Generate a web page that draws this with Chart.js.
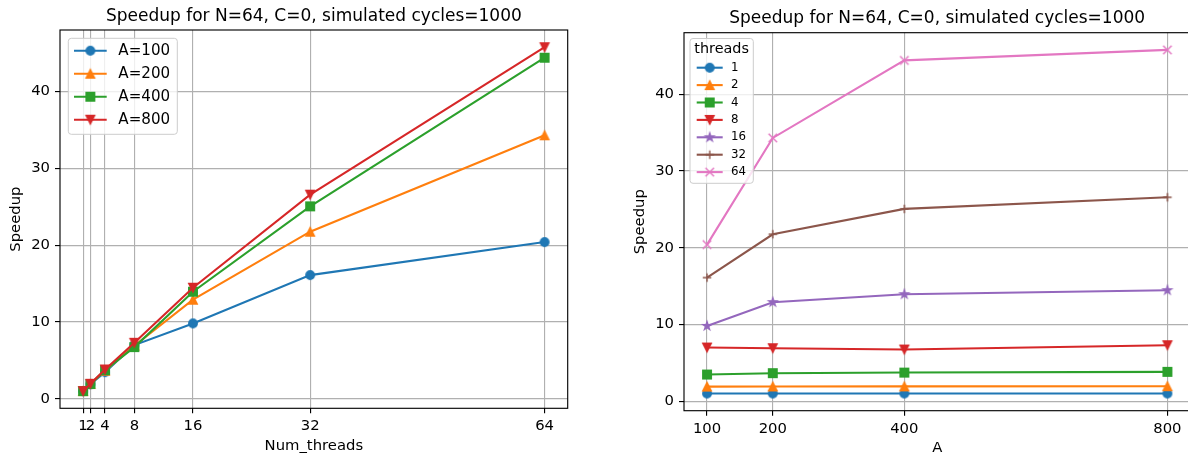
<!DOCTYPE html>
<html>
<head>
<meta charset="utf-8">
<script src="https://cdn.jsdelivr.net/npm/chart.js@4.4.1/dist/chart.umd.min.js"></script>
<style>
  html, body { margin: 0; padding: 0; background: #fff; overflow: hidden; }
  #wrap { position: relative; width: 1188px; height: 457px; overflow: hidden; }
  .panel { position: absolute; top: 0; height: 457px; }
  #left { left: 0; width: 594px; }
  /* right axes runs past the window edge, like the reference */
  #right { left: 594px; width: 603px; }
</style>
</head>
<body>
<div id="wrap">
  <div class="panel" id="left"><canvas id="threads-chart" width="594" height="457"></canvas></div>
  <div class="panel" id="right"><canvas id="a-chart" width="603" height="457"></canvas></div>
</div>
<script>
// ---- data ----
const threadCounts = [1, 2, 4, 8, 16, 32, 64];
const aValues = [100, 200, 400, 800];
const speedupA100 = [1.0, 1.90, 3.47, 6.99, 9.81, 16.10, 20.40];
const speedupA200 = [1.0, 1.92, 3.65, 6.90, 12.90, 21.75, 34.30];
const speedupA400 = [1.0, 1.93, 3.73, 6.73, 13.94, 25.05, 44.40];
const speedupA800 = [1.0, 1.95, 3.82, 7.29, 14.46, 26.57, 45.77];
const yTicks = [0, 10, 20, 30, 40];
const chartTitle = 'Speedup for N=64, C=0, simulated cycles=1000';

// matplotlib tab10
const palette = ['#1f77b4', '#ff7f0e', '#2ca02c', '#d62728', '#9467bd', '#8c564b', '#e377c2'];
const markerKinds = ['o', '^', 's', 'v', '*', '+', 'x'];

Chart.defaults.font.family = "'DejaVu Sans', sans-serif";
Chart.defaults.color = '#000';

const FONT = 14.8;
const LINE_W = 2.1;
const EDGE_W = 1.42;
const GRID_W = 1.13;

// Small canvases used as point styles (matplotlib-like markers)
function makeMarker(kind, color) {
  const size = 16, h = 4.25;
  const c = document.createElement('canvas');
  c.width = size; c.height = size;
  const ctx = c.getContext('2d');
  ctx.translate(size / 2, size / 2);
  ctx.fillStyle = color;
  ctx.strokeStyle = color;
  ctx.lineWidth = EDGE_W;
  ctx.beginPath();
  if (kind === 'o') {
    ctx.arc(0, 0, h, 0, Math.PI * 2);
  } else if (kind === '^') {
    ctx.moveTo(0, -h); ctx.lineTo(-h, h); ctx.lineTo(h, h); ctx.closePath();
  } else if (kind === 'v') {
    ctx.moveTo(0, h); ctx.lineTo(-h, -h); ctx.lineTo(h, -h); ctx.closePath();
  } else if (kind === 's') {
    ctx.rect(-h, -h, 2 * h, 2 * h);
  } else if (kind === '*') {
    for (let i = 0; i < 10; i++) {
      const r = i % 2 === 0 ? h : h * 0.381966;
      const ang = -Math.PI / 2 + i * Math.PI / 5;
      const px = r * Math.cos(ang), py = r * Math.sin(ang);
      if (i === 0) ctx.moveTo(px, py); else ctx.lineTo(px, py);
    }
    ctx.closePath();
  } else if (kind === '+') {
    ctx.moveTo(-h, 0); ctx.lineTo(h, 0); ctx.moveTo(0, -h); ctx.lineTo(0, h);
    ctx.stroke();
    return c;
  } else if (kind === 'x') {
    ctx.moveTo(-h, -h); ctx.lineTo(h, h); ctx.moveTo(-h, h); ctx.lineTo(h, -h);
    ctx.stroke();
    return c;
  }
  ctx.fill();
  ctx.stroke();
  return c;
}

// axis limits with matplotlib's 5% margins
function padded(values) {
  const lo = Math.min(...values), hi = Math.max(...values);
  const pad = (hi - lo) * 0.05;
  return { min: lo - pad, max: hi + pad };
}

const allSpeedups = [].concat(speedupA100, speedupA200, speedupA400, speedupA800);
const yLim = padded(allSpeedups);

// full box around the plot area
const framePlugin = {
  id: 'frame',
  afterDatasetsDraw(chart) {
    const { ctx, chartArea: a } = chart;
    ctx.save();
    ctx.strokeStyle = '#000';
    ctx.lineWidth = GRID_W;
    ctx.strokeRect(a.left, a.top, a.right - a.left, a.bottom - a.top);
    ctx.restore();
  }
};

// matplotlib style legend: line + marker handle, frame with rounded corners
const mplLegend = {
  id: 'mplLegend',
  afterDraw(chart, args, o) {
    if (!o || !o.width) return;
    const { ctx, chartArea: a } = chart;
    const x0 = a.left + o.insetX, y0 = a.top + o.insetY;
    ctx.save();
    ctx.beginPath();
    ctx.roundRect(x0, y0, o.width, o.height, 3);
    ctx.fillStyle = 'rgba(255,255,255,0.8)';
    ctx.fill();
    ctx.strokeStyle = '#cccccc';
    ctx.lineWidth = 1;
    ctx.stroke();
    ctx.fillStyle = '#000';
    ctx.textBaseline = 'middle';
    if (o.title) {
      ctx.font = o.titleSize + "px 'DejaVu Sans'";
      ctx.textAlign = 'center';
      ctx.fillText(o.title, x0 + o.width / 2, y0 + o.titleY);
    }
    ctx.textAlign = 'left';
    ctx.font = o.fontSize + "px 'DejaVu Sans'";
    chart.data.datasets.forEach((ds, i) => {
      const cy = y0 + o.firstRow + i * o.rowGap;
      const hx = x0 + o.handleX;
      ctx.beginPath();
      ctx.strokeStyle = ds.borderColor;
      ctx.lineWidth = LINE_W;
      ctx.moveTo(hx, cy);
      ctx.lineTo(hx + o.handleLen, cy);
      ctx.stroke();
      const m = ds.pointStyle;
      ctx.drawImage(m, hx + o.handleLen / 2 - m.width / 2, cy - m.height / 2);
      ctx.fillStyle = '#000';
      ctx.fillText(ds.label, x0 + o.textX, cy);
    });
    ctx.restore();
  }
};

function makeDataset(label, xs, ys, idx, total) {
  return {
    label: label,
    data: xs.map((x, i) => ({ x: x, y: ys[i] })),
    borderColor: palette[idx],
    backgroundColor: palette[idx],
    borderWidth: LINE_W,
    pointStyle: makeMarker(markerKinds[idx], palette[idx]),
    pointRadius: 4.5,
    tension: 0,
    fill: false,
    order: total - idx
  };
}

function gridOpts() {
  return { color: '#b0b0b0', lineWidth: GRID_W, tickColor: '#000', tickWidth: GRID_W, tickLength: 5 };
}

function xAxis(tickValues, lim, height, title, titlePadBottom) {
  return {
    type: 'linear',
    min: lim.min,
    max: lim.max,
    afterBuildTicks: s => { s.ticks = tickValues.map(v => ({ value: v })); },
    afterFit: s => { s.height = height; s.paddingLeft = 0; s.paddingRight = 0; },
    grid: gridOpts(),
    border: { display: false },
    ticks: { autoSkip: false, maxRotation: 0, padding: 4.2, font: { size: FONT }, callback: v => String(v) },
    title: { display: true, text: title, font: { size: FONT }, padding: { top: 0, bottom: titlePadBottom } }
  };
}

function yAxis(width, titlePadTop) {
  return {
    type: 'linear',
    min: yLim.min,
    max: yLim.max,
    afterBuildTicks: s => { s.ticks = yTicks.map(v => ({ value: v })); },
    afterFit: s => { s.width = width; s.paddingTop = 0; s.paddingBottom = 0; },
    grid: gridOpts(),
    border: { display: false },
    ticks: { padding: 5, font: { size: FONT }, callback: v => String(v) },
    title: { display: true, text: 'Speedup', font: { size: FONT }, padding: { top: titlePadTop, bottom: 0 } }
  };
}

// ---- left: speedup vs number of threads, one line per A ----
const aSeries = [speedupA100, speedupA200, speedupA400, speedupA800];
const leftDatasets = aSeries.map((ys, i) =>
  makeDataset('A=' + aValues[i], threadCounts, ys, i, aSeries.length));

new Chart(document.getElementById('threads-chart'), {
  type: 'line',
  data: { datasets: leftDatasets },
  plugins: [framePlugin, mplLegend],
  options: {
    responsive: false,
    animation: false,
    layout: { padding: { left: 0, right: 26.3, top: 0, bottom: 0 } },
    scales: {
      x: xAxis(threadCounts, padded(threadCounts), 48.7, 'Num_threads', 1.5),
      y: yAxis(60, 7.5)
    },
    plugins: {
      legend: { display: false },
      tooltip: { enabled: false },
      title: {
        display: true, text: chartTitle, fullSize: false,
        font: { size: 17, weight: 'normal' }, padding: { top: 6.5, bottom: 3.1 }
      },
      mplLegend: {
        insetX: 8.3, insetY: 8.3, width: 109, height: 96,
        firstRow: 12.4, rowGap: 23, handleX: 5.7, handleLen: 32.7, textX: 50, fontSize: 15.1
      }
    }
  }
});

// ---- right: speedup vs A, one line per thread count ----
const rightDatasets = threadCounts.map((t, ti) =>
  makeDataset(String(t), aValues, aSeries.map(s => s[ti]), ti, threadCounts.length));

new Chart(document.getElementById('a-chart'), {
  type: 'line',
  data: { datasets: rightDatasets },
  plugins: [framePlugin, mplLegend],
  options: {
    responsive: false,
    animation: false,
    layout: { padding: { left: 0, right: 5, top: 0, bottom: 0 } },
    scales: {
      x: xAxis(aValues, padded(aValues), 46.3, 'A', 0),
      y: yAxis(90, 37.5)
    },
    plugins: {
      legend: { display: false },
      tooltip: { enabled: false },
      title: {
        display: true, text: chartTitle, fullSize: false,
        font: { size: 17, weight: 'normal' }, padding: { top: 8.8, bottom: 3.5 }
      },
      mplLegend: {
        title: 'threads', titleSize: 14.4,
        insetX: 6, insetY: 5.8, width: 63.3, height: 144.8, titleY: 10.8,
        firstRow: 29.2, rowGap: 17.4, handleX: 6.7, handleLen: 26, textX: 41, fontSize: 11.8
      }
    }
  }
});
</script>
</body>
</html>
